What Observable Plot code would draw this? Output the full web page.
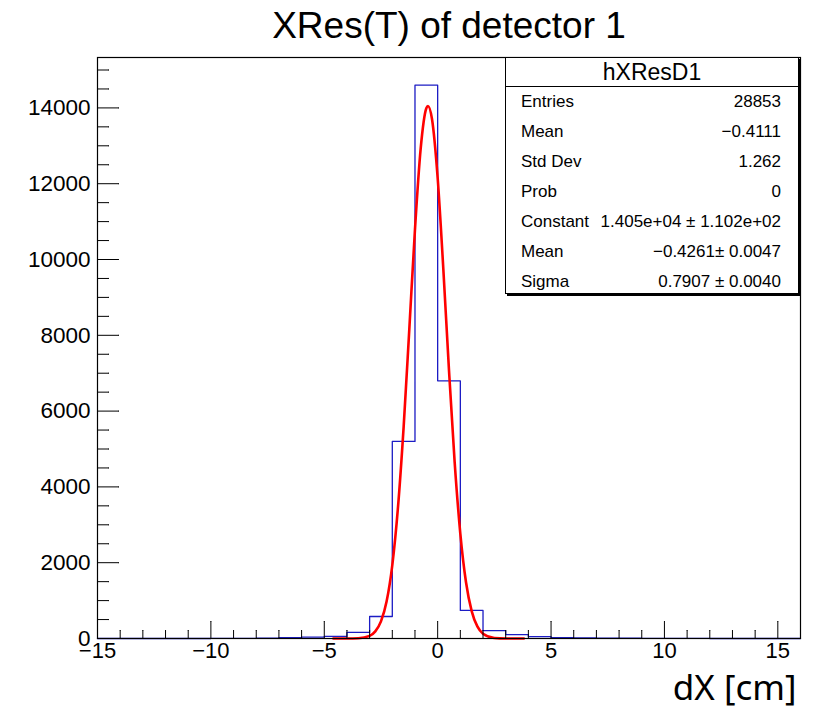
<!DOCTYPE html>
<html>
<head>
<meta charset="utf-8">
<script src="https://cdn.jsdelivr.net/npm/d3@7"></script>
<script src="https://cdn.jsdelivr.net/npm/@observablehq/plot@0.6"></script>
<style>
  html, body { margin: 0; padding: 0; background: #fff; }
  #wrap { position: relative; width: 813px; height: 711px; font-family: "Liberation Sans", Arial, sans-serif; }
  #stats { position: absolute; left: 505px; top: 57px; width: 294px; height: 237px; box-sizing: border-box;
           border: 1px solid #000; background: #fff; box-shadow: 2px 2px 0 #000; color: #000; }
  #stats .head { height: 28px; line-height: 28px; border-bottom: 1px solid #000; text-align: center; font-size: 23px; }
  #stats .row { height: 30px; line-height: 30px; font-size: 17px; display: flex; justify-content: space-between; padding: 0 17px 0 15px; }
</style>
</head>
<body>
<div id="wrap"></div>
<script>
// ---- data ----
const titleText = "XRes(T) of detector 1";
const xLabelText = "dX [cm]";
const histName = "hXResD1";

// bin lower edges (bin width 1) and counts
const binEdges = [-15,-14,-13,-12,-11,-10,-9,-8,-7,-6,-5,-4,-3,-2,-1,0,1,2,3,4,5,6,7,8,9,10,11,12,13,14,15];
const binCounts = [0,0,0,0,0,2,5,10,20,35,55,160,580,5200,14600,6800,740,210,100,50,25,15,10,6,4,2,1,0,0,0,0];
const xUpper = 16;

// fitted gaussian curve samples
const fitX = [-4.6,-4,-3.5,-3,-2.75,-2.5,-2.25,-2,-1.75,-1.5,-1.25,-1,-0.75,-0.5,-0.4261,-0.25,0,0.25,0.5,0.75,1,1.25,1.5,1.75,2,2.5,3,3.8];
const fitY = [0,0.5,7,70,187,451,982,1938,3459,5586,8164,10797,12919,13989,14050,13706,12150,9748,7075,4648,2762,1485,723,318,127,15,1.2,0];

// axis ticks
const xMajorTicks = [-15,-10,-5,0,5,10,15];
const xMinorTicks = [-14,-13,-12,-11,-9,-8,-7,-6,-4,-3,-2,-1,1,2,3,4,6,7,8,9,11,12,13,14,16];
const yMajorTicks = [0,2000,4000,6000,8000,10000,12000,14000];
const yMinorTicks = [500,1000,1500,2500,3000,3500,4500,5000,5500,6500,7000,7500,8500,9000,9500,10500,11000,11500,12500,13000,13500,14500,15000];
const yMax = 15330;

// stats box
const statLabels = ["Entries","Mean","Std Dev","Prob","Constant","Mean","Sigma"];
const statValues = ["28853","\u22120.4111","1.262","0","1.405e+04 \u00b1 1.102e+02","\u22120.4261\u00b1 0.0047","0.7907 \u00b1 0.0040"];

// ---- build ----
const histPoints = binEdges.map((e, i) => ({x: e, y: binCounts[i]}));
histPoints.push({x: xUpper, y: 0});
const fitPoints = fitX.map((x, i) => ({x, y: fitY[i]}));

const font = "Liberation Sans, Arial, sans-serif";
const tickOpts = (len, rot, anchorFrame) => ({frameAnchor: anchorFrame, length: len, rotate: rot, anchor: "start", r: 0, stroke: "#000", strokeWidth: 1});

const chart = Plot.plot({
  width: 813,
  height: 711,
  marginLeft: 97,
  marginRight: 13,
  marginTop: 57,
  marginBottom: 73,
  style: {fontFamily: font, background: "#fff", color: "#000"},
  x: {domain: [-15, xUpper]},
  y: {domain: [0, yMax]},
  marks: [
    Plot.line(histPoints, {x: "x", y: "y", curve: "step-after", stroke: "#1c1cc4", strokeWidth: 1.3}),
    Plot.line(fitPoints, {x: "x", y: "y", curve: "monotone-x", stroke: "#ff0000", strokeWidth: 2.6}),
    Plot.vector(xMajorTicks, {x: d => d, ...tickOpts(17, 0, "bottom")}),
    Plot.vector(xMinorTicks, {x: d => d, ...tickOpts(8, 0, "bottom")}),
    Plot.vector(yMajorTicks, {y: d => d, ...tickOpts(21, 90, "left")}),
    Plot.vector(yMinorTicks, {y: d => d, ...tickOpts(11, 90, "left")}),
    Plot.axisX({ticks: xMajorTicks, tickSize: 0, tickPadding: 4, fontSize: 22, label: null}),
    Plot.axisY({ticks: yMajorTicks, tickSize: 0, tickPadding: 7, fontSize: 22.5, label: null, tickFormat: d => String(d)}),
    Plot.frame({stroke: "#000", strokeWidth: 1.2}),
    Plot.text([titleText], {text: d => d, frameAnchor: "top", lineAnchor: "middle", dy: -31, fontSize: 37, fill: "#000"}),
    Plot.text([xLabelText], {text: d => d, frameAnchor: "bottom-right", textAnchor: "end", lineAnchor: "middle", dx: -4, dy: 50, fontSize: 35, fontFamily: "Noto Sans", fill: "#000"})
  ]
});

const wrap = document.getElementById("wrap");
wrap.appendChild(chart);

const box = document.createElement("div");
box.id = "stats";
const head = document.createElement("div");
head.className = "head";
head.textContent = histName;
box.appendChild(head);
statLabels.forEach((lab, i) => {
  const row = document.createElement("div");
  row.className = "row";
  const a = document.createElement("span"); a.textContent = lab;
  const b = document.createElement("span"); b.textContent = statValues[i];
  row.appendChild(a); row.appendChild(b);
  box.appendChild(row);
});
wrap.appendChild(box);
</script>
</body>
</html>
